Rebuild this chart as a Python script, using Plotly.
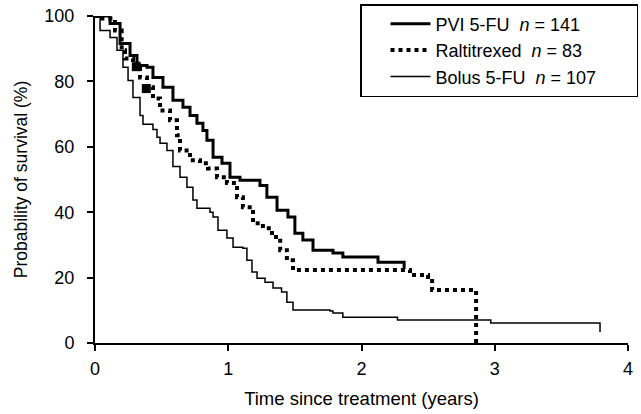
import plotly.graph_objects as go

# Kaplan-Meier style step data (time in years, survival in %)
pvi_t = [0, 0.075, 0.113, 0.188, 0.263, 0.315, 0.39, 0.435, 0.51, 0.585, 0.66, 0.713, 0.765, 0.81, 0.84,
         0.886, 0.953, 1.013, 1.088, 1.238, 1.29, 1.366, 1.448, 1.50, 1.56, 1.636, 1.786, 1.86, 2.124, 2.32, 2.32]
pvi_s = [100, 100, 97.7, 91.6, 87.9, 84.9, 84.3, 81.2, 78.2, 74.2, 72.1, 69.6, 67.2, 65.0, 62.0,
         56.8, 55.0, 50.7, 49.8, 48.2, 44.6, 40.6, 38.5, 33.6, 31.5, 28.4, 27.5, 26.3, 24.7, 24.7, 22.6]

ral_t = [0, 0.04, 0.15, 0.2, 0.225, 0.285, 0.338, 0.39, 0.435, 0.488, 0.563, 0.615, 0.638, 0.713, 0.788,
         0.848, 0.916, 0.99, 1.066, 1.11, 1.186, 1.26, 1.328, 1.39, 1.44, 1.486, 2.30, 2.364, 2.5, 2.53, 2.86, 2.86]
ral_s = [100, 99.2, 95.6, 89.5, 87.0, 85.5, 81.2, 78.2, 74.8, 71.1, 68.1, 63.5, 58.9, 55.9, 55.0,
         53.4, 50.7, 48.9, 44.6, 41.5, 36.6, 35.1, 32.4, 28.4, 25.3, 22.3, 22.3, 20.8, 20.2, 16.2, 15.6, 0]

bol_t = [0, 0.038, 0.113, 0.165, 0.21, 0.248, 0.285, 0.338, 0.36, 0.435, 0.465, 0.488, 0.54, 0.585, 0.638,
         0.69, 0.735, 0.765, 0.863, 0.886, 0.923, 0.99, 1.036, 1.11, 1.14, 1.178, 1.216, 1.276, 1.336, 1.40,
         1.44, 1.486, 1.764, 1.786, 1.86, 2.27, 2.97, 3.79, 3.79]
bol_s = [100, 95.6, 93.4, 89.5, 84.3, 80.3, 75.1, 69.6, 66.9, 65.3, 62.9, 61.1, 58.9, 54.0, 50.7,
         47.6, 43.7, 41.2, 40.0, 38.5, 34.5, 32.1, 29.3, 29.0, 25.3, 21.7, 19.8, 18.6, 16.8, 15.6,
         12.5, 10.1, 9.8, 9.2, 7.9, 7.0, 6.1, 6.1, 3.4]

# censor clusters on Raltitrexed curve
cens_t = [0.31, 0.385]
cens_s = [84.5, 77.8]

pad = "&nbsp;" * 7
names = ["PVI 5-FU&nbsp;&nbsp;<i>n</i> = 141",
         "Raltitrexed&nbsp;&nbsp;<i>n</i> = 83",
         "Bolus 5-FU&nbsp;&nbsp;<i>n</i> = 107" + pad]

x_ticks = [0, 1, 2, 3, 4]
y_ticks = [0, 20, 40, 60, 80, 100]

fig = go.Figure()
fig.add_trace(go.Scatter(x=pvi_t, y=pvi_s, mode="lines", line=dict(color="black", width=3, shape="hv"),
                         name=names[0]))
fig.add_trace(go.Scatter(x=ral_t, y=ral_s, mode="lines",
                         line=dict(color="black", width=4, shape="hv", dash="4px,4px"),
                         name=names[1]))
fig.add_trace(go.Scatter(x=bol_t, y=bol_s, mode="lines", line=dict(color="black", width=1.5, shape="hv"),
                         name=names[2]))
fig.add_trace(go.Scatter(x=cens_t, y=cens_s, mode="markers",
                         marker=dict(symbol="square", size=9, color="black"), showlegend=False))

font_family = "Liberation Sans, Arial, Helvetica, sans-serif"
fig.update_layout(
    width=641, height=414,
    margin=dict(l=95, r=13, t=16, b=71, autoexpand=False),
    paper_bgcolor="white", plot_bgcolor="white",
    font=dict(family=font_family, size=18, color="black"),
    showlegend=True,
    legend=dict(xref="container", yref="container", x=638 / 641, xanchor="right",
                y=1 - 4 / 414, yanchor="top",
                bordercolor="black", borderwidth=1.5, bgcolor="white",
                font=dict(size=18), tracegroupgap=0, indentation=24, itemwidth=40),
)
fig.update_xaxes(range=[0, 4], tickvals=x_ticks, ticktext=[str(v) for v in x_ticks],
                 showgrid=False, zeroline=False, showline=True, linecolor="black", linewidth=2,
                 ticks="outside", ticklen=6, tickwidth=2, tickcolor="black", ticklabelstandoff=2,
                 title=dict(text="Time since treatment (years)", standoff=14, font=dict(size=18.5)))
fig.update_yaxes(range=[0, 100], tickvals=y_ticks, ticktext=[str(v) for v in y_ticks],
                 showgrid=False, zeroline=False, showline=True, linecolor="black", linewidth=2,
                 ticks="outside", ticklen=6, tickwidth=2, tickcolor="black", ticklabelstandoff=9,
                 title=dict(text="Probability of survival (%)", standoff=12, font=dict(size=17.5)))

fig.write_html("out.html")
